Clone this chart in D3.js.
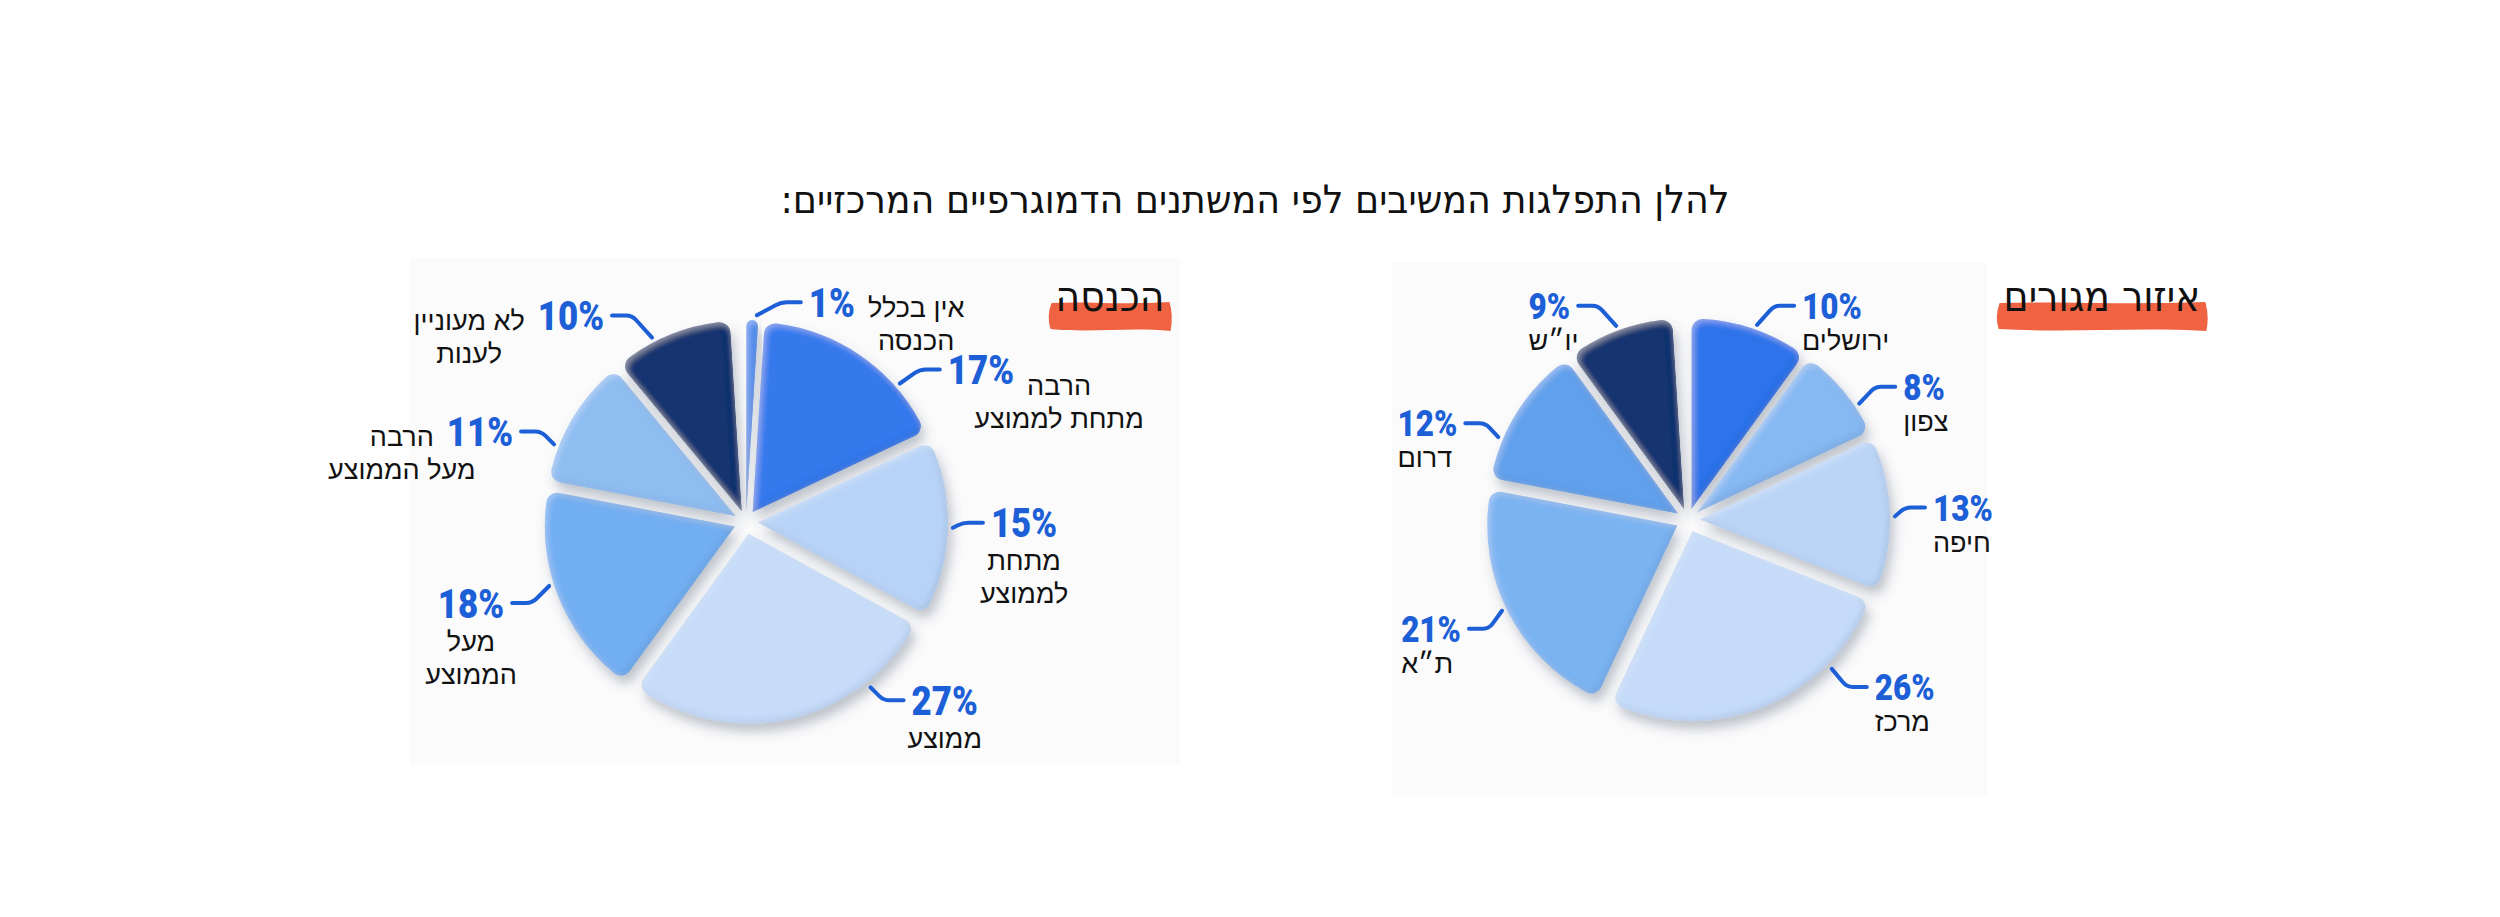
<!DOCTYPE html>
<html>
<head>
<meta charset="utf-8">
<script src="https://cdn.jsdelivr.net/npm/d3@7"></script>
<style>
  html, body { margin: 0; padding: 0; background: #fff; }
  svg { display: block; }
</style>
</head>
<body>
<svg id="chart"></svg>
<script>
// ---- data ----
var titleText = "להלן התפלגות המשיבים לפי המשתנים הדמוגרפיים המרכזיים:";

var incomeTitle = "הכנסה";
var incomeCategories = [
    ["אין בכלל", "הכנסה"],
    ["הרבה", "מתחת לממוצע"],
    ["מתחת", "לממוצע"],
    ["ממוצע"],
    ["מעל", "הממוצע"],
    ["הרבה", "מעל הממוצע"],
    ["לא מעוניין", "לענות"]
];
var incomeValues = [1, 17, 15, 27, 18, 11, 10];
var incomeColors = ["#4e8ff0", "#3479ec", "#b7d3f7", "#c6dcf9", "#72aff2", "#8ebdf2", "#16346f"];

var regionTitle = "איזור מגורים";
var regionCategories = [["ירושלים"], ["צפון"], ["חיפה"], ["מרכז"], ["ת״א"], ["דרום"], ["יו״ש"]];
var regionValues = [10, 8, 13, 26, 21, 12, 9];
var regionColors = ["#2f73ea", "#86b8f2", "#bbd5f7", "#c5dbf9", "#7ab3f2", "#61a0ec", "#16346f"];

// ---- label layout (leader angle in degrees, elbow offset, text placement) ----
var incomeLabelLayout = [
    { angle: 3,    dx: 24,  dy: -13, mode: "right", textDy: 0 },
    { angle: 48,   dx: 20,  dy: -14, mode: "right", textDy: 11 },
    { angle: 91.6, dx: 10,  dy: -5,  mode: "below" },
    { angle: 143,  dx: 13,  dy: 13,  mode: "below" },
    { angle: 252,  dx: -17, dy: 17,  mode: "below" },
    { angle: 292,  dx: -13, dy: -13, mode: "left", textDy: 0 },
    { angle: 333,  dx: -20, dy: -22, mode: "left", textDy: 0 }
];
var regionLabelLayout = [
    { angle: 19.5,  dx: 17,  dy: -19, mode: "under" },
    { angle: 55.8,  dx: 16,  dy: -17, mode: "under" },
    { angle: 89,    dx: 10,  dy: -9,  mode: "under" },
    { angle: 136,   dx: 15,  dy: 18,  mode: "under" },
    { angle: 244,   dx: -13, dy: 18,  mode: "under" },
    { angle: 293.6, dx: -13, dy: -14, mode: "under" },
    { angle: 339.7, dx: -18, dy: -20, mode: "under" }
];

var width = 2500, height = 917;
var labelBlue = "#1c5fd6";
var hebFont = "'Liberation Sans', 'DejaVu Sans', sans-serif";
var narrowFont = "'DejaVu Sans Condensed', 'Liberation Sans Narrow', sans-serif";
var pctFont = "Roboto, Inter, sans-serif";
var pctSqueeze = 0.85;

var svg = d3.select("#chart")
    .attr("width", width)
    .attr("height", height);

// soft shadow + rim shading for the slices
var defs = svg.append("defs");
var f = defs.append("filter")
    .attr("id", "sliceFx")
    .attr("x", "-30%").attr("y", "-30%")
    .attr("width", "160%").attr("height", "160%");
f.append("feGaussianBlur").attr("in", "SourceAlpha").attr("stdDeviation", 6).attr("result", "sBlur");
f.append("feOffset").attr("in", "sBlur").attr("dx", 4).attr("dy", 8).attr("result", "sOff");
f.append("feFlood").attr("flood-color", "#4a5a70").attr("flood-opacity", 0.35).attr("result", "sCol");
f.append("feComposite").attr("in", "sCol").attr("in2", "sOff").attr("operator", "in").attr("result", "shadow");
// rim: inside edge, offset to the lower right
f.append("feGaussianBlur").attr("in", "SourceAlpha").attr("stdDeviation", 3).attr("result", "rBlur");
f.append("feOffset").attr("in", "rBlur").attr("dx", -2).attr("dy", -2).attr("result", "rOff");
f.append("feComposite").attr("in", "SourceAlpha").attr("in2", "rOff")
    .attr("operator", "arithmetic").attr("k2", 1).attr("k3", -1).attr("result", "rim");
f.append("feFlood").attr("flood-color", "#0d2a66").attr("flood-opacity", 0.22).attr("result", "rCol");
f.append("feComposite").attr("in", "rCol").attr("in2", "rim").attr("operator", "in").attr("result", "rimShade");
// highlight on the upper left
f.append("feOffset").attr("in", "rBlur").attr("dx", 2).attr("dy", 2).attr("result", "hOff");
f.append("feComposite").attr("in", "SourceAlpha").attr("in2", "hOff")
    .attr("operator", "arithmetic").attr("k2", 1).attr("k3", -1).attr("result", "hl");
f.append("feFlood").attr("flood-color", "#ffffff").attr("flood-opacity", 0.3).attr("result", "hCol");
f.append("feComposite").attr("in", "hCol").attr("in2", "hl").attr("operator", "in").attr("result", "hlShade");
var merge = f.append("feMerge");
merge.append("feMergeNode").attr("in", "shadow");
merge.append("feMergeNode").attr("in", "SourceGraphic");
merge.append("feMergeNode").attr("in", "rimShade");
merge.append("feMergeNode").attr("in", "hlShade");

// faint photo backgrounds behind the pies
svg.append("rect")
    .attr("x", 410).attr("y", 258).attr("width", 770).attr("height", 507)
    .attr("fill", "#fbfbfc");
svg.append("rect")
    .attr("x", 1392).attr("y", 262).attr("width", 595).attr("height", 533)
    .attr("fill", "#fbfbfc");

// title
svg.append("text")
    .attr("x", 1255)
    .attr("y", 213)
    .attr("direction", "rtl")
    .attr("text-anchor", "middle")
    .attr("textLength", 949)
    .attr("lengthAdjust", "spacingAndGlyphs")
    .style("font-family", narrowFont)
    .style("font-size", "39px")
    .attr("fill", "#111")
    .text(titleText);

function drawHeader(text, cx) {
    var g = svg.append("g");
    var t = g.append("text")
        .attr("x", cx)
        .attr("y", 311)
        .attr("text-anchor", "middle")
        .style("font-family", narrowFont)
        .style("font-size", "42px")
        .attr("fill", "#111")
        .text(text);
    var w = t.node().getComputedTextLength();
    var x0 = cx - w / 2 - 8, x1 = cx + w / 2 + 8;
    // brush stroke with slightly ragged edges
    var p = d3.path();
    p.moveTo(x0 + 4, 303);
    p.bezierCurveTo(x0 + (x1 - x0) * 0.3, 301, x0 + (x1 - x0) * 0.6, 305, x1 - 3, 302);
    p.quadraticCurveTo(x1 + 1, 316, x1 - 2, 331);
    p.bezierCurveTo(x0 + (x1 - x0) * 0.65, 327, x0 + (x1 - x0) * 0.35, 333, x0 + 3, 329);
    p.quadraticCurveTo(x0 - 1, 316, x0 + 4, 303);
    p.closePath();
    g.insert("path", "text")
        .attr("d", p.toString())
        .attr("fill", "#ef6342");
}

function drawPie(opts) {
    var r = opts.radius, explode = 12;
    var total = d3.sum(opts.values);

    var pie = d3.pie()
        .sort(null)
        .startAngle(0)
        .endAngle(2 * Math.PI * total / 100);

    var arc = d3.arc()
        .innerRadius(0)
        .outerRadius(r)
        .cornerRadius(11);

    var g = svg.append("g")
        .attr("transform", "translate(" + opts.cx + "," + opts.cy + ")");

    var arcs = pie(opts.values);

    g.selectAll("path.slice")
        .data(arcs)
        .enter()
        .append("path")
        .attr("class", "slice")
        .attr("d", arc)
        .attr("transform", function (d) {
            var mid = (d.startAngle + d.endAngle) / 2;
            return "translate(" + (Math.sin(mid) * explode) + "," + (-Math.cos(mid) * explode) + ")";
        })
        .attr("fill", function (d, i) { return opts.colors[i]; })
        .attr("filter", "url(#sliceFx)");

    // labels
    arcs.forEach(function (d, i) {
        var lay = opts.layout[i];
        var a = lay.angle * Math.PI / 180;
        var rr = r + explode + 5;
        var sx = Math.sin(a) * rr, sy = -Math.cos(a) * rr;
        var ex = sx + lay.dx, ey = sy + lay.dy;
        var side = lay.dx >= 0 ? 1 : -1;
        var hx = ex + side * 20;

        // leader with rounded elbow
        var len = Math.sqrt(lay.dx * lay.dx + lay.dy * lay.dy);
        var k = Math.min(6, len / 2);
        var p = d3.path();
        p.moveTo(sx, sy);
        p.lineTo(ex - lay.dx / len * k, ey - lay.dy / len * k);
        p.quadraticCurveTo(ex, ey, ex + side * k, ey);
        p.lineTo(hx, ey);
        g.append("path")
            .attr("d", p.toString())
            .attr("fill", "none")
            .attr("stroke", labelBlue)
            .attr("stroke-width", 4)
            .attr("stroke-linecap", "round");

        // percent (horizontally squeezed heavy face)
        var fs = opts.pctSize;
        var px = hx + side * 8;
        var base = ey + fs * 0.355;
        var pg = g.append("g")
            .attr("transform", "translate(" + px + "," + base + ") scale(" + pctSqueeze + ",1)");
        var pct = pg.append("text")
            .attr("x", 0)
            .attr("y", 0)
            .attr("text-anchor", side > 0 ? "start" : "end")
            .style("font-family", pctFont)
            .style("font-weight", 900)
            .style("font-size", fs + "px")
            .attr("fill", labelBlue)
            .text(d.data + "%");
        var pw = pct.node().getComputedTextLength() * pctSqueeze;
        var pLeft = side > 0 ? px : px - pw;
        var pRight = pLeft + pw;

        var lines = opts.categories[i];
        var txt = g.append("text")
            .style("font-family", hebFont)
            .style("font-size", opts.labelSize + "px")
            .attr("fill", "#111");
        var spans = txt.selectAll("tspan")
            .data(lines)
            .enter()
            .append("tspan")
            .text(function (s) { return s; });

        if (lay.mode === "under") {
            spans.attr("x", pLeft)
                .attr("y", function (s, j) { return base + 31 + j * 33; });
            txt.attr("text-anchor", "start");
        } else if (lay.mode === "below") {
            spans.attr("x", (pLeft + pRight) / 2)
                .attr("y", function (s, j) { return base + 33 + j * 33; });
            txt.attr("text-anchor", "middle");
        } else {
            // side block, centred on the width of its first line
            var probe = g.append("text")
                .style("font-family", hebFont)
                .style("font-size", opts.labelSize + "px")
                .text(lines[0]);
            var w1 = probe.node().getComputedTextLength();
            probe.remove();
            var cx = lay.mode === "right" ? pRight + 13 + w1 / 2 : pLeft - 13 - w1 / 2;
            spans.attr("x", cx)
                .attr("y", function (s, j) { return base + lay.textDy + j * 33; });
            txt.attr("text-anchor", "middle");
        }
    });
}

drawPie({
    cx: 746, cy: 522, radius: 190,
    values: incomeValues, colors: incomeColors,
    categories: incomeCategories, layout: incomeLabelLayout,
    pctSize: 41, labelSize: 27
});

drawPie({
    cx: 1688, cy: 520, radius: 190,
    values: regionValues, colors: regionColors,
    categories: regionCategories, layout: regionLabelLayout,
    pctSize: 37, labelSize: 27
});

drawHeader(incomeTitle, 1110);
drawHeader(regionTitle, 2102);
</script>
</body>
</html>
